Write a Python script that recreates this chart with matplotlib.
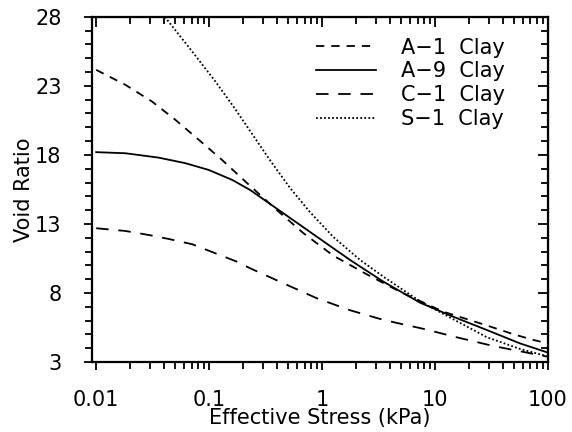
import matplotlib
matplotlib.use("Agg")
import matplotlib.pyplot as plt
from matplotlib.ticker import FixedLocator, NullFormatter, LogLocator

# values
a1_stress = [0.01, 0.0182, 0.0313, 0.0503, 0.0811, 0.130, 0.2095, 0.397, 0.684,
             1.26, 2.49, 5, 11.8, 28.7, 50, 74, 100]
a1_void = [24.16, 23.07, 21.86, 20.54, 19.09, 17.64, 16.07, 14.01, 12.33,
           10.7, 9.35, 8.05, 6.65, 5.65, 5.0, 4.6, 4.35]

a9_stress = [0.01, 0.0182, 0.0359, 0.0617, 0.0993, 0.16, 0.2307, 0.455, 0.897,
             1.77, 3.49, 7.36, 14.5, 28.7, 56.5, 100]
a9_void = [18.2, 18.12, 17.8, 17.4, 16.91, 16.19, 15.46, 13.77, 12.08,
           10.39, 8.82, 7.3, 6.28, 5.32, 4.35, 3.68]

c1_stress = [0.01, 0.0182, 0.0292, 0.044, 0.0708, 0.176, 0.2307, 0.455, 0.897,
             1.77, 3.49, 8.43, 14.5, 32.8, 100]
c1_void = [12.69, 12.49, 12.2, 11.91, 11.53, 10.27, 9.79, 8.70, 7.62,
           6.75, 6.05, 5.35, 4.85, 4.16, 3.38]

s1_stress = [0.0405, 0.0708, 0.1138, 0.171, 0.232, 0.347, 0.521, 0.783, 1.26,
             2.17, 3.49, 7.36, 14.5, 28.7, 56.5, 100]
s1_void = [28.0, 25.49, 23.31, 21.3, 19.7, 17.6, 15.6, 13.85, 12.05,
           10.39, 9.18, 7.4, 6.1, 4.8, 3.95, 3.4]

labels = ["A\u22121  Clay", "A\u22129  Clay", "C\u22121  Clay", "S\u22121  Clay"]
x_ticks = [0.01, 0.1, 1, 10, 100]
x_ticklabels = ["0.01", "0.1", "1", "10", "100"]
y_ticks = [3, 8, 13, 18, 23, 28]

plt.rcParams["lines.scale_dashes"] = False
plt.rcParams["font.family"] = "DejaVu Sans"

fig = plt.figure(figsize=(5.72, 4.32), dpi=100)
ax = fig.add_axes([0.161, 0.162, 0.797, 0.799])

lw = 1.3
ax.plot(a1_stress, a1_void, color="black", lw=lw, linestyle=(0, (6, 5)), label=labels[0])
ax.plot(a9_stress, a9_void, color="black", lw=lw, linestyle="-", label=labels[1])
ax.plot(c1_stress, c1_void, color="black", lw=lw, linestyle=(0, (9, 7)), label=labels[2])
ax.plot(s1_stress, s1_void, color="black", lw=lw, linestyle=(0, (1.3, 1.6)), label=labels[3])

ax.set_xscale("log")
ax.set_xlim(0.0092, 100)
ax.set_ylim(3, 28)

ax.set_xticks(x_ticks)
ax.set_xticklabels(x_ticklabels)
ax.xaxis.set_minor_locator(LogLocator(base=10, subs=range(2, 10)))
ax.xaxis.set_minor_formatter(NullFormatter())
ax.set_yticks(y_ticks)
ax.yaxis.set_minor_locator(FixedLocator(range(3, 29)))

for s in ax.spines.values():
    s.set_linewidth(1.6)

ax.tick_params(which="both", direction="out", labelsize=15, width=1.3,
               top=False, right=False)
ax.tick_params(which="major", length=6)
ax.tick_params(which="minor", length=5)
ax.tick_params(axis="x", pad=14)
ax.tick_params(axis="y", pad=16)

# inward ticks on the top and right sides
top = ax.secondary_xaxis("top")
top.set_xticks(x_ticks)
top.xaxis.set_minor_locator(LogLocator(base=10, subs=range(2, 10)))
top.xaxis.set_minor_formatter(NullFormatter())
top.tick_params(which="both", direction="in", labeltop=False, width=1.3)
top.tick_params(which="major", length=7)
top.tick_params(which="minor", length=5)
right = ax.secondary_yaxis("right")
right.set_yticks(y_ticks)
right.yaxis.set_minor_locator(FixedLocator(range(3, 29)))
right.tick_params(which="both", direction="in", labelright=False, width=1.3)
right.tick_params(which="major", length=7)
right.tick_params(which="minor", length=5)

ax.set_xlabel("Effective Stress (kPa)", fontsize=15, labelpad=-1)
ax.set_ylabel("Void Ratio", fontsize=15, labelpad=1)

ax.legend(loc="upper right", bbox_to_anchor=(0.906, 0.94), frameon=False,
          fontsize=15, handlelength=2.9, handletextpad=1.2, labelspacing=0.18,
          borderaxespad=0, borderpad=0)

fig.savefig("out.png", dpi=100)
